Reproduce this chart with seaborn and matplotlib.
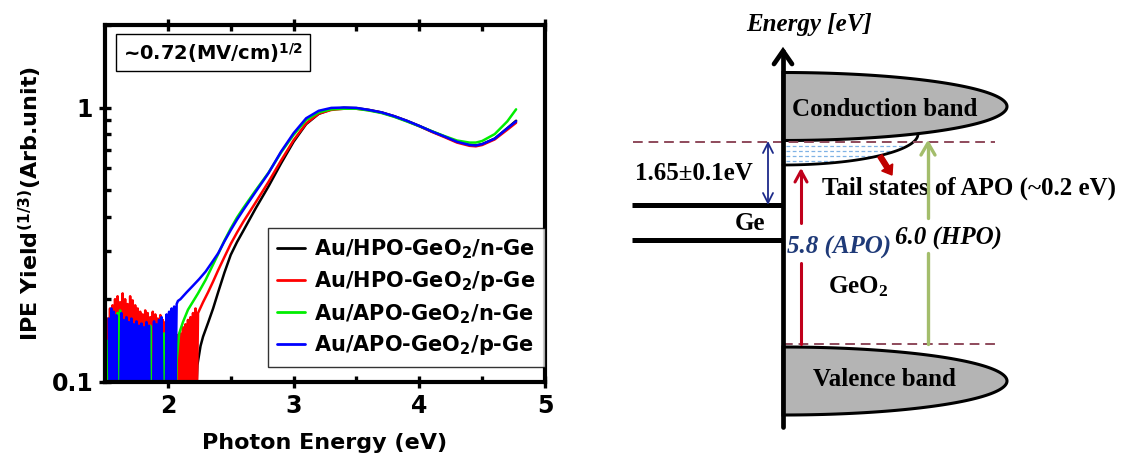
import numpy as np
import pandas as pd
import matplotlib
matplotlib.use("Agg")
import matplotlib.pyplot as plt
import seaborn as sns
from matplotlib.patches import Polygon, FancyArrow

# ---------------- data ----------------
samples = ["Au/HPO-GeO2/n-Ge", "Au/HPO-GeO2/p-Ge", "Au/APO-GeO2/n-Ge", "Au/APO-GeO2/p-Ge"]
labels = [r"Au/HPO-GeO$_{\mathbf{2}}$/n-Ge", r"Au/HPO-GeO$_{\mathbf{2}}$/p-Ge",
          r"Au/APO-GeO$_{\mathbf{2}}$/n-Ge", r"Au/APO-GeO$_{\mathbf{2}}$/p-Ge"]
colors = ["#000000", "#FF0000", "#00EE00", "#0000FF"]

# smooth parts
hpo_n_x = [2.225, 2.235, 2.26, 2.28, 2.32, 2.36, 2.4, 2.45, 2.5, 2.55, 2.6, 2.7, 2.8, 2.9, 3.0, 3.1, 3.2,
           3.3, 3.4, 3.5, 3.6, 3.7, 3.8, 3.9, 4.0, 4.1, 4.2, 4.3, 4.4, 4.45, 4.5, 4.6, 4.7, 4.77]
hpo_n_y = [0.09, 0.115, 0.135, 0.146, 0.164, 0.185, 0.212, 0.25, 0.29, 0.323, 0.355, 0.43, 0.515, 0.625,
           0.75, 0.87, 0.948, 0.985, 0.998, 0.995, 0.98, 0.96, 0.93, 0.895, 0.857, 0.818, 0.784, 0.75,
           0.73, 0.727, 0.735, 0.77, 0.84, 0.895]

hpo_p_x = [2.24, 2.28, 2.32, 2.36, 2.4, 2.45, 2.5, 2.55, 2.6, 2.7, 2.8, 2.9, 3.0, 3.1, 3.2, 3.3, 3.4,
           3.5, 3.6, 3.7, 3.8, 3.9, 4.0, 4.1, 4.2, 4.3, 4.4, 4.45, 4.5, 4.6, 4.7, 4.77]
hpo_p_y = [0.178, 0.195, 0.212, 0.232, 0.255, 0.285, 0.318, 0.35, 0.383, 0.452, 0.535, 0.64, 0.76,
           0.875, 0.95, 0.98, 0.99, 0.99, 0.978, 0.958, 0.928, 0.893, 0.855, 0.815, 0.78, 0.745, 0.725,
           0.722, 0.73, 0.765, 0.83, 0.88]

apo_n_x = [2.07, 2.09, 2.12, 2.16, 2.2, 2.24, 2.3, 2.35, 2.4, 2.45, 2.5, 2.55, 2.6, 2.7, 2.8, 2.9, 3.0,
           3.1, 3.2, 3.3, 3.4, 3.5, 3.6, 3.7, 3.8, 3.9, 4.0, 4.1, 4.2, 4.3, 4.4, 4.45, 4.5, 4.6, 4.7, 4.77]
apo_n_y = [0.12, 0.15, 0.165, 0.183, 0.196, 0.21, 0.235, 0.262, 0.292, 0.327, 0.362, 0.397, 0.43, 0.5,
           0.578, 0.685, 0.795, 0.9, 0.96, 0.985, 0.99, 0.99, 0.975, 0.955, 0.925, 0.89, 0.855, 0.82,
           0.787, 0.758, 0.745, 0.745, 0.755, 0.8, 0.89, 0.985]

apo_p_x = [2.08, 2.1, 2.15, 2.2, 2.25, 2.3, 2.35, 2.4, 2.45, 2.5, 2.55, 2.6, 2.7, 2.8, 2.9, 3.0, 3.1,
           3.2, 3.3, 3.4, 3.5, 3.6, 3.7, 3.8, 3.9, 4.0, 4.1, 4.2, 4.3, 4.4, 4.45, 4.5, 4.6, 4.7, 4.77]
apo_p_y = [0.197, 0.2, 0.212, 0.224, 0.237, 0.252, 0.272, 0.294, 0.325, 0.357, 0.39, 0.423, 0.494,
           0.576, 0.69, 0.806, 0.914, 0.973, 0.997, 1.0, 0.997, 0.98, 0.96, 0.93, 0.895, 0.857, 0.818,
           0.784, 0.75, 0.73, 0.727, 0.735, 0.77, 0.84, 0.89]

# noisy low-energy parts (0.01 eV steps)
hpo_p_noise_start = 1.52
hpo_p_noise = [0.17, 0.06, 0.185, 0.05, 0.19, 0.07, 0.2, 0.06, 0.205, 0.08, 0.195, 0.06, 0.21, 0.05,
               0.2, 0.07, 0.192, 0.06, 0.205, 0.05, 0.198, 0.07, 0.19, 0.06, 0.185, 0.05, 0.18, 0.07,
               0.176, 0.06, 0.182, 0.05, 0.178, 0.07, 0.172, 0.06, 0.18, 0.05, 0.176, 0.07, 0.17, 0.06,
               0.175, 0.05, 0.168, 0.07, 0.165, 0.06, 0.17, 0.05, 0.162, 0.07, 0.165, 0.06, 0.16, 0.05,
               0.148, 0.06, 0.15, 0.05, 0.158, 0.07, 0.162, 0.05, 0.168, 0.06, 0.172, 0.05, 0.178, 0.07,
               0.185, 0.08]
apo_n_noise_start = 1.51
apo_n_noise = [0.14, 0.05, 0.142, 0.06, 0.138, 0.05, 0.07, 0.05, 0.06, 0.178, 0.05, 0.182, 0.06, 0.05,
               0.15, 0.05, 0.06, 0.155, 0.05, 0.06, 0.05, 0.148, 0.06, 0.05, 0.06, 0.05, 0.15, 0.05,
               0.06, 0.05, 0.145, 0.06, 0.05, 0.06, 0.05, 0.16, 0.05, 0.06, 0.05, 0.15, 0.05, 0.06,
               0.05, 0.06, 0.05, 0.06, 0.15, 0.05, 0.06, 0.05, 0.06, 0.05, 0.06, 0.05, 0.05, 0.06]
apo_p_noise_start = 1.53
apo_p_noise = [0.17, 0.06, 0.185, 0.07, 0.18, 0.05, 0.175, 0.06, 0.07, 0.08, 0.178, 0.06, 0.168, 0.05,
               0.172, 0.07, 0.165, 0.06, 0.17, 0.05, 0.162, 0.07, 0.166, 0.06, 0.16, 0.05, 0.163, 0.06,
               0.158, 0.07, 0.165, 0.06, 0.16, 0.05, 0.06, 0.07, 0.166, 0.06, 0.162, 0.05, 0.168, 0.07,
               0.172, 0.06, 0.06, 0.05, 0.176, 0.07, 0.18, 0.06, 0.185, 0.08, 0.188, 0.09, 0.192]

x_limits = (1.5, 5.0)
y_limits = (0.1, 2.0)
x_ticks = [2, 3, 4, 5]
y_ticks = [0.1, 1]
y_tick_labels = ["0.1", "1"]
field_text = r"~0.72(MV/cm)$^{\mathbf{1/2}}$"

# ---------------- build long table ----------------
def noise_x(start, vals):
    return list(np.round(start + 0.01 * np.arange(len(vals)), 3))

parts = [
    (samples[0], list(hpo_n_x), list(hpo_n_y)),
    (samples[1], noise_x(hpo_p_noise_start, hpo_p_noise) + hpo_p_x, hpo_p_noise + hpo_p_y),
    (samples[2], noise_x(apo_n_noise_start, apo_n_noise) + apo_n_x, apo_n_noise + apo_n_y),
    (samples[3], noise_x(apo_p_noise_start, apo_p_noise) + apo_p_x, apo_p_noise + apo_p_y),
]
rows = []
for name, xs, ys in parts:
    for i, (xv, yv) in enumerate(zip(xs, ys)):
        rows.append({"sample": name, "E": xv, "Y": yv, "order": i})
df = pd.DataFrame(rows)

# ---------------- style ----------------
sns.set_style("ticks")
plt.rcParams["font.family"] = ["DejaVu Sans"]
plt.rcParams["font.weight"] = "bold"
plt.rcParams["text.color"] = "black"
plt.rcParams["axes.labelcolor"] = "black"
plt.rcParams["xtick.color"] = "black"
plt.rcParams["ytick.color"] = "black"
plt.rcParams["mathtext.fontset"] = "custom"
plt.rcParams["mathtext.bf"] = "DejaVu Sans:bold"
plt.rcParams["mathtext.rm"] = "Liberation Serif:bold"
plt.rcParams["mathtext.it"] = "Liberation Serif:italic:bold"

W, H = 1131, 457
fig = plt.figure(figsize=(W / 100, H / 100), dpi=100)
ax = fig.add_axes([105 / W, 1 - 381.7 / H, 440 / W, 356.7 / H])

sns.lineplot(data=df, x="E", y="Y", hue="sample", hue_order=samples, palette=colors,
             estimator=None, sort=False, units="sample", linewidth=1.8, ax=ax, legend=False)

ax.set_yscale("log")
ax.set_xlim(*x_limits)
ax.set_ylim(*y_limits)
ax.set_xticks(x_ticks)
ax.set_xticks([2.5, 3.5, 4.5], minor=True)
ax.set_yticks(y_ticks)
ax.set_yticklabels(y_tick_labels)
ax.yaxis.set_minor_locator(matplotlib.ticker.LogLocator(base=10, subs=np.arange(2, 10)))
ax.yaxis.set_minor_formatter(matplotlib.ticker.NullFormatter())
for s in ax.spines.values():
    s.set_linewidth(3.0)
    s.set_color("black")
ax.tick_params(axis="both", which="major", direction="inout", length=9, width=2.4,
               labelsize=17, pad=4, colors="black")
ax.tick_params(axis="both", which="minor", direction="in", length=4, width=2.4, colors="black")
ax.tick_params(axis="x", which="both", top=True)
for lab in ax.get_xticklabels() + ax.get_yticklabels():
    lab.set_fontweight("bold")
    lab.set_color("black")

ax.set_xlabel("Photon Energy (eV)", fontsize=16, fontweight="bold", labelpad=11, color="black")
ax.set_ylabel(r"IPE Yield$^{\mathbf{(1/3)}}$(Arb.unit)", fontsize=16, fontweight="bold",
              labelpad=6, color="black")

ax.text(0.04, 0.955, field_text, transform=ax.transAxes, ha="left", va="top",
        fontsize=14, fontweight="bold", color="black",
        bbox=dict(boxstyle="square,pad=0.35", facecolor="white", edgecolor="black", linewidth=1.0))

handles = [matplotlib.lines.Line2D([], [], color=c, lw=2) for c in colors]
leg = ax.legend(handles, labels, loc="lower right", bbox_to_anchor=(1.0, 0.042),
                borderaxespad=0, fancybox=False, frameon=True, fontsize=15,
                handlelength=1.35, handletextpad=0.45, labelspacing=0.42, borderpad=0.45)
leg.get_frame().set_edgecolor("black")
leg.get_frame().set_linewidth(1.0)
for t in leg.get_texts():
    t.set_fontweight("bold")
    t.set_color("black")

# ---------------- band diagram (pixel coordinates) ----------------
ax2 = fig.add_axes([590 / W, 0, 541 / W, 1])
ax2.set_xlim(590, W)
ax2.set_ylim(H, 0)
ax2.axis("off")

serif = "Liberation Serif"
AX_X = 783
EC, EV = 142, 344          # dashed band edges
maroon = "#8E4A5B"

def half_ellipse(cx, cy, a, b, n=120):
    t = np.linspace(-np.pi / 2, np.pi / 2, n)
    return np.column_stack([cx + a * np.cos(t), cy + b * np.sin(t)])

# tail states region
t = np.linspace(0, np.pi / 2, 60)
tail_curve = np.column_stack([AX_X + 135 * np.sin(t), 134 + 31 * np.cos(t)])
xt = np.linspace(AX_X + 135, AX_X, 60)
tail_top = np.column_stack([xt, 106.5 + 34 * np.sqrt(np.clip(1 - ((xt - AX_X) / 224) ** 2, 0, 1))])
ax2.add_patch(Polygon(np.vstack([tail_curve, tail_top]), closed=True, facecolor="white",
                      edgecolor="none", zorder=1))
for yy in [146, 151, 156, 161]:
    xe = AX_X + 135 * np.sqrt(max(0, 1 - ((yy - 134) / 31) ** 2))
    ax2.plot([AX_X + 3, xe - 3], [yy, yy], color="#7FB2E5", lw=0.9, ls=(0, (3, 2)), zorder=2)
ax2.plot(tail_curve[:, 0], tail_curve[:, 1], color="black", lw=2.0, zorder=4)

# conduction and valence bands
ax2.add_patch(Polygon(half_ellipse(AX_X, 106.5, 224, 34), closed=True, facecolor="#B4B4B4",
                      edgecolor="black", lw=2.2, zorder=3))
ax2.add_patch(Polygon(half_ellipse(AX_X, 381, 224, 34), closed=True, facecolor="#B4B4B4",
                      edgecolor="black", lw=2.2, zorder=3))

# dashed edges
ax2.plot([633, 995], [EC, EC], color=maroon, lw=1.4, ls=(0, (5, 3)), zorder=5)
ax2.plot([AX_X, 995], [EV, EV], color=maroon, lw=1.4, ls=(0, (5, 3)), zorder=5)

# Ge levels
ax2.plot([632, AX_X], [205, 205], color="black", lw=3.6, solid_capstyle="butt", zorder=5)
ax2.plot([632, AX_X], [240, 240], color="black", lw=3.6, solid_capstyle="butt", zorder=5)

# energy axis
ax2.plot([AX_X, AX_X], [427, 51], color="black", lw=3.4, zorder=6)
ax2.plot([AX_X - 9, AX_X, AX_X + 9], [64, 51, 64], color="black", lw=3.4, zorder=6,
         solid_capstyle="round", solid_joinstyle="miter")

def chevron(x, y, w, h, color, lw, up=True):
    s = 1 if up else -1
    ax2.plot([x - w, x, x + w], [y + s * h, y, y + s * h], color=color, lw=lw, zorder=7)

# 1.65 eV double arrow
navy = "#1C2A8A"
ax2.plot([768, 768], [143, 203], color=navy, lw=1.3, zorder=7)
chevron(768, 143, 5, 10, navy, 1.3, up=True)
chevron(768, 203, 5, 10, navy, 1.3, up=False)

# APO arrow (5.8)
red = "#C0001C"
ax2.plot([801, 801], [EV, 263], color=red, lw=2.2, zorder=7)
ax2.plot([801, 801], [223, 171], color=red, lw=2.2, zorder=7)
chevron(801, 171, 6, 11, red, 2.2)

# HPO arrow (6.0)
olive = "#A3BD6B"
ax2.plot([928, 928], [EV, 253], color=olive, lw=2.4, zorder=8)
ax2.plot([928, 928], [218, 143], color=olive, lw=2.4, zorder=8)
chevron(928, 143, 7, 12, olive, 2.4)

# fat red arrow to tail states
ax2.add_patch(FancyArrow(880, 156, 12, 19, width=5, head_width=13, head_length=9,
                         length_includes_head=True, color="#C00000", zorder=8))

# texts
ax2.text(809, 25, "Energy [eV]", family=serif, style="italic", weight="bold", fontsize=18,
         ha="center", va="center")
ax2.text(792, 109, "Conduction band", family=serif, weight="bold", fontsize=18,
         ha="left", va="center", zorder=6)
ax2.text(813, 380, "Valence band", family=serif, weight="bold", fontsize=18,
         ha="left", va="center", zorder=6)
ax2.text(635, 174, "1.65±0.1eV", family=serif, weight="bold", fontsize=18,
         ha="left", va="center")
ax2.text(750, 223, "Ge", family=serif, weight="bold", fontsize=18, ha="center", va="center")
ax2.text(822, 188, "Tail states of APO (~0.2 eV)", family=serif, weight="bold", fontsize=18,
         ha="left", va="center", zorder=6)
ax2.text(787, 247, "5.8 (APO)", family=serif, style="italic", weight="bold", fontsize=18,
         color="#1F3A78", ha="left", va="center")
ax2.text(895, 238, "6.0 (HPO)", family=serif, style="italic", weight="bold", fontsize=18,
         color="black", ha="left", va="center")
ax2.text(828, 287, r"GeO$_{\mathrm{2}}$", family=serif, weight="bold", fontsize=18,
         ha="left", va="center")

fig.savefig("out.png", dpi=100)
